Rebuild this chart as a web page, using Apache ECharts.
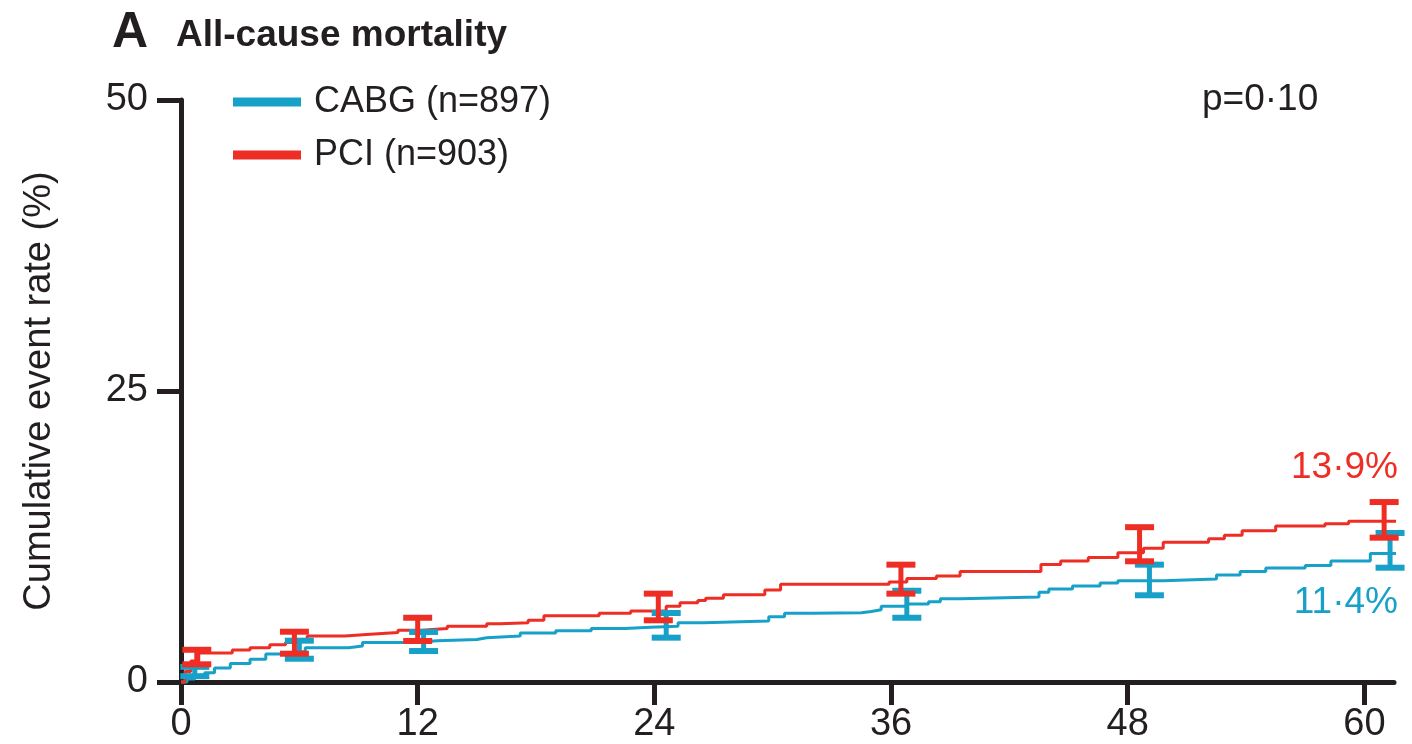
<!DOCTYPE html>
<html>
<head>
<meta charset="utf-8">
<script src="https://cdn.jsdelivr.net/npm/echarts@6/dist/echarts.min.js"></script>
<style>
html,body{margin:0;padding:0;background:#fff;}
#chart{width:1412px;height:744px;}
</style>
</head>
<body>
<div id="chart"></div>
<script>
// ---- data ----
const xTicks = [0, 12, 24, 36, 48, 60];
const yTicks = [0, 25, 50];

const monthsCABG = [0, 0.3, 0.7, 1.2, 1.7, 2.5, 3.5, 4.3, 5.8, 6.3, 8.5, 9.2, 11.8, 13.0, 15.0, 15.5, 17.2, 19.0, 20.8, 22.5, 23.8, 25.2, 26.5, 29.8, 30.6, 32.0, 34.5, 35.0, 35.5, 36.8, 37.9, 38.5, 39.5, 43.5, 44.0, 45.2, 46.6, 47.5, 49.8, 52.5, 53.7, 55.0, 57.0, 58.3, 60.3, 61.9];
const rateCABG   = [0, 0.25, 0.5, 0.8, 1.2, 1.6, 1.95, 2.4, 2.6, 2.95, 3.1, 3.4, 3.55, 3.65, 3.8, 3.95, 4.2, 4.4, 4.6, 4.7, 4.8, 5.1, 5.25, 5.6, 5.9, 5.95, 6.05, 6.2, 6.5, 6.7, 6.9, 7.15, 7.3, 7.7, 8.0, 8.25, 8.5, 8.7, 8.85, 9.2, 9.5, 9.8, 10.0, 10.4, 11.05, 11.4];

const monthsPCI = [0, 0.2, 0.5, 0.9, 2.6, 3.5, 4.5, 5.3, 5.8, 6.4, 8.3, 9.6, 11.0, 12.2, 13.5, 15.5, 16.2, 17.6, 18.4, 21.2, 22.8, 24.6, 25.3, 26.2, 26.6, 27.5, 29.6, 30.4, 35.9, 36.8, 38.3, 39.5, 43.6, 44.6, 46.0, 47.5, 48.8, 49.8, 52.1, 52.9, 53.8, 55.5, 58.0, 59.2, 61.9];
const ratePCI   = [0, 0.9, 1.8, 2.5, 2.75, 2.95, 3.2, 3.4, 3.65, 3.95, 4.1, 4.25, 4.45, 4.6, 4.8, 5.0, 5.1, 5.3, 5.7, 5.9, 6.1, 6.5, 6.8, 7.0, 7.2, 7.5, 7.9, 8.4, 8.6, 8.9, 9.1, 9.5, 10.1, 10.4, 10.7, 11.1, 11.5, 12.0, 12.3, 12.6, 13.0, 13.4, 13.6, 13.8, 13.9];

const ciMonthsCABG = [0.7, 6.0, 12.3, 24.6, 36.8, 49.1, 61.3];
const ciLowCABG    = [0.5, 2.0, 2.66, 3.81, 5.52, 7.45, 9.82];
const ciHighCABG   = [1.3, 3.55, 4.30, 5.93, 7.84, 10.08, 12.8];

const ciMonthsPCI = [0.8, 5.75, 12.0, 24.2, 36.5, 48.6, 61.0];
const ciLowPCI    = [1.52, 2.43, 3.52, 5.30, 7.59, 10.37, 12.4];
const ciHighPCI   = [2.77, 4.32, 5.52, 7.59, 10.08, 13.3, 15.46];

const nameCABG = 'CABG (n=897)';
const namePCI = 'PCI (n=903)';
const pText = 'p=0·10';
const endPCI = '13·9%';
const endCABG = '11·4%';
const titleLetter = 'A';
const titleText = 'All-cause mortality';
const yName = 'Cumulative event rate (%)';

// ---- style ----
const BLUE = '#17a0c8';
const RED = '#ee2e24';
const INK = '#231f20';
const FONT = "'Liberation Sans', Arial, sans-serif";

function zip(a, b) { return a.map((v, i) => [v, b[i]]); }
function zip3(a, b, c) { return a.map((v, i) => [v, b[i], c[i]]); }

function errRender(color) {
  return function (params, api) {
    const x = api.value(0), lo = api.value(1), hi = api.value(2);
    const pLo = api.coord([x, lo]);
    const pHi = api.coord([x, hi]);
    const hw = 14.5;
    return {
      type: 'group',
      children: [
        { type: 'line', shape: { x1: pLo[0], y1: pLo[1], x2: pHi[0], y2: pHi[1] }, style: { stroke: color, lineWidth: 5 } },
        { type: 'line', shape: { x1: pHi[0] - hw, y1: pHi[1], x2: pHi[0] + hw, y2: pHi[1] }, style: { stroke: color, lineWidth: 6 } },
        { type: 'line', shape: { x1: pLo[0] - hw, y1: pLo[1], x2: pLo[0] + hw, y2: pLo[1] }, style: { stroke: color, lineWidth: 6 } }
      ]
    };
  };
}

const chart = echarts.init(document.getElementById('chart'), null, { renderer: 'canvas' });

chart.setOption({
  animation: false,
  backgroundColor: '#fff',
  textStyle: { fontFamily: FONT },
  grid: { left: 181, right: 18, top: 100, bottom: 62, containLabel: false },
  legend: {
    data: [nameCABG, namePCI],
    orient: 'vertical',
    left: 228,
    top: 75,
    icon: 'rect',
    itemWidth: 68,
    itemHeight: 9,
    itemGap: 9,
    selectedMode: false,
    textStyle: { fontSize: 36, color: INK, fontFamily: FONT, lineHeight: 44, padding: [0, 0, 0, 8] }
  },
  xAxis: {
    type: 'value',
    min: 0,
    max: 61.5,
    interval: 12,
    splitLine: { show: false },
    axisLine: { lineStyle: { color: INK, width: 5 } },
    axisTick: { show: true, length: 23, lineStyle: { color: INK, width: 5 }, customValues: xTicks },
    axisLabel: { customValues: xTicks, fontSize: 38, color: INK, margin: 24, fontFamily: FONT }
  },
  yAxis: {
    type: 'value',
    min: 0,
    max: 50,
    interval: 25,
    name: yName,
    nameLocation: 'middle',
    nameGap: 122,
    nameRotate: 90,
    nameTextStyle: { fontSize: 38, color: INK, fontFamily: FONT },
    splitLine: { show: false },
    axisLine: { show: true, lineStyle: { color: INK, width: 5 } },
    axisTick: { show: true, length: 24, lineStyle: { color: INK, width: 5 }, customValues: yTicks },
    axisLabel: { customValues: yTicks, fontSize: 38, color: INK, margin: 33, fontFamily: FONT }
  },
  series: [
    {
      name: nameCABG,
      type: 'line',
      step: 'end',
      data: zip(monthsCABG, rateCABG),
      showSymbol: false,
      symbol: 'none',
      clip: false,
      color: BLUE,
      lineStyle: { color: BLUE, width: 3 },
      z: 2
    },
    {
      name: namePCI,
      type: 'line',
      step: 'end',
      data: zip(monthsPCI, ratePCI),
      showSymbol: false,
      symbol: 'none',
      clip: false,
      color: RED,
      lineStyle: { color: RED, width: 3 },
      z: 3
    },
    {
      name: 'CABG CI',
      type: 'custom',
      renderItem: errRender(BLUE),
      data: zip3(ciMonthsCABG, ciLowCABG, ciHighCABG),
      encode: { x: 0, y: [1, 2] },
      clip: false,
      z: 4
    },
    {
      name: 'PCI CI',
      type: 'custom',
      renderItem: errRender(RED),
      data: zip3(ciMonthsPCI, ciLowPCI, ciHighPCI),
      encode: { x: 0, y: [1, 2] },
      clip: false,
      z: 5
    }
  ],
  graphic: [
    { type: 'text', left: 112, top: 8, style: { text: titleLetter, font: "bold 50px " + FONT, fill: INK } },
    { type: 'text', left: 176, top: 17, style: { text: titleText, font: "bold 37px " + FONT, fill: INK } },
    { type: 'text', left: 1202, top: 81, style: { text: pText, font: "37px " + FONT, fill: INK } },
    { type: 'text', right: 14, top: 449, style: { text: endPCI, font: "37px " + FONT, fill: RED } },
    { type: 'text', right: 14, top: 584, style: { text: endCABG, font: "37px " + FONT, fill: BLUE } }
  ]
});
</script>
</body>
</html>
